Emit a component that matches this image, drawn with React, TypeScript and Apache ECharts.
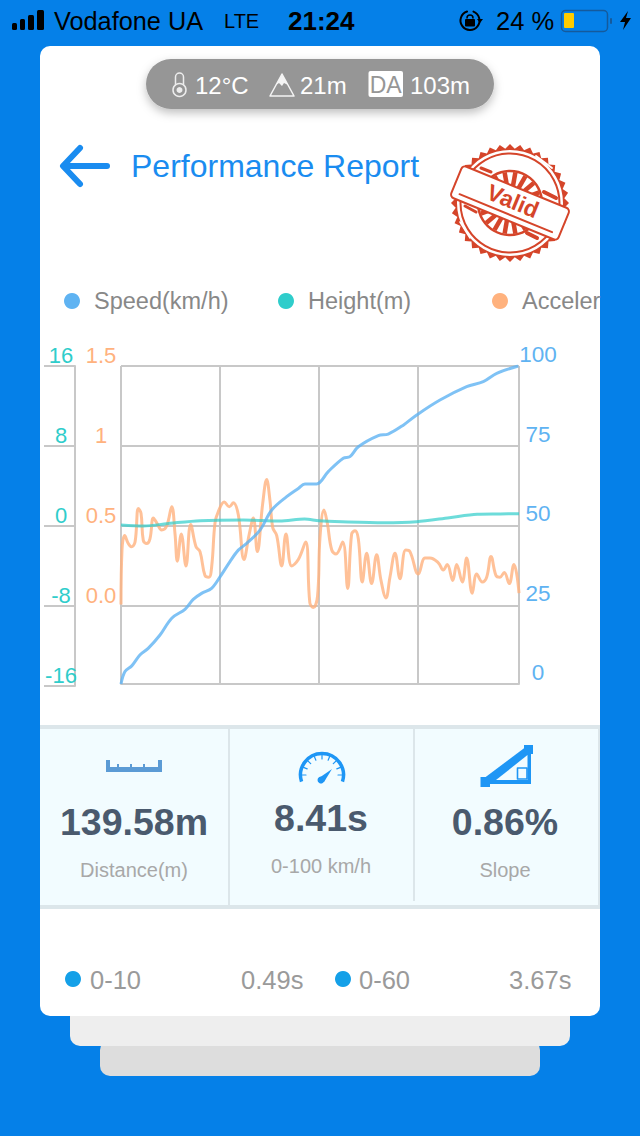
import React, { useEffect, useRef } from 'react';
import * as echarts from 'echarts';

const FONT = '"Liberation Sans", Arial, sans-serif';

const BLUE = '#0580E8';
const SPEED_COLOR = '#5FB3F2';
const HEIGHT_COLOR = '#2FCDCB';
const ACCEL_COLOR = '#FFB27E';
const GRID_COLOR = '#C8C8C8';
const ACCENT = '#1A8CF0';
const STAMP = '#D5452A';

const speedTime = [0, 4, 10.8, 19, 27.3, 39.2, 51, 64.3, 72.6, 81, 91, 99.5, 109.5, 117.9, 126.3, 139.7, 151.5, 166.5, 178.2, 184.9, 196.6, 208.3, 223.4, 230.1, 238.5, 258.6, 268.6, 283.7, 297.2, 320.6, 347.4, 364.1, 377.6, 399.3];
const speedValues = [0, 3.9, 5.7, 9.1, 11.2, 15.4, 20.7, 23.5, 26.6, 28.5, 30.1, 33.7, 38.5, 42.1, 44.2, 48.4, 54.7, 58.9, 61.5, 62.9, 62.9, 66.8, 71, 71.5, 74.6, 78.1, 78.6, 81.4, 84.6, 89.3, 93.5, 95.1, 97.7, 100];

const heightTime = [0, 22.5, 49.5, 79.5, 123, 159.5, 184.5, 199, 222, 264, 297, 330, 358, 381, 400];
const heightValues = [0.1, 0, 0.27, 0.53, 0.6, 0.5, 0.7, 0.53, 0.43, 0.33, 0.43, 0.83, 1.17, 1.2, 1.23];

const accelTime = [0, 1, 3.7, 7.3, 10.4, 14.1, 17.4, 20.1, 22.4, 25.8, 29.1, 32.5, 35.9, 40.9, 45.9, 51, 54.3, 56.6, 60.6, 65.3, 70, 75.4, 79.4, 84.4, 88.4, 91.2, 94.5, 97.8, 103.8, 108.8, 112.9, 117.9, 123.6, 128.9, 133, 137, 142.4, 146.4, 149.7, 152.5, 156.5, 161.5, 165.8, 171.6, 178.2, 185.6, 189.8, 193.3, 197.5, 200, 204, 207.3, 211.8, 216.1, 222.8, 227.8, 231.8, 235.2, 238.5, 242.5, 246.9, 251.9, 256.9, 261.3, 266.3, 270.3, 275.4, 280.4, 286.1, 290.4, 298.8, 305.5, 310.5, 318.9, 323.9, 327.9, 333.4, 337.4, 343, 347.4, 353, 357.5, 363.1, 367.5, 371.9, 376.9, 380.9, 385.2, 390.2, 395, 397.7, 400];
const accelValues = [0.01, 0.35, 0.44, 0.39, 0.37, 0.4, 0.61, 0.58, 0.41, 0.39, 0.42, 0.55, 0.52, 0.475, 0.5, 0.62, 0.45, 0.28, 0.45, 0.25, 0.51, 0.37, 0.34, 0.19, 0.18, 0.25, 0.52, 0.59, 0.65, 0.62, 0.645, 0.57, 0.29, 0.45, 0.55, 0.34, 0.64, 0.79, 0.66, 0.49, 0.44, 0.25, 0.45, 0.25, 0.29, 0.4, 0.02, -0.01, 0.06, 0.43, 0.6, 0.52, 0.35, 0.325, 0.4, 0.11, 0.45, 0.47, 0.42, 0.15, 0.33, 0.14, 0.32, 0.16, 0.05, 0.18, 0.33, 0.17, 0.35, 0.34, 0.2, 0.3, 0.3, 0.27, 0.225, 0.26, 0.16, 0.26, 0.15, 0.3, 0.08, 0.2, 0.15, 0.18, 0.31, 0.19, 0.18, 0.21, 0.14, 0.26, 0.2, 0.08];

const timeTicks = [0, 99.5, 199, 298.5, 400];
const accelTickLabels = ['', '0.0', '0.5', '1', '1.5'];
const legendNames = ['Speed(km/h)', 'Height(m)', 'Acceleration'];

const statValues = ['139.58m', '8.41s', '0.86%'];
const statLabels = ['Distance(m)', '0-100 km/h', 'Slope'];

const zip = (xs: number[], ys: number[]) => xs.map((x, i) => [x, ys[i]]);

const label = (text: string, x: number, y: number, size: number, fill: string, opts: any = {}) => ({
  type: 'text',
  x,
  y,
  rotation: opts.rotation || 0,
  style: {
    text,
    fill,
    font: `${opts.weight || 'normal'} ${size}px ${FONT}`,
    align: opts.align || 'left',
    verticalAlign: 'middle',
  },
});

const rect = (x: number, y: number, width: number, height: number, fill: string, r = 0, extra: any = {}) => ({
  type: 'rect',
  shape: { x, y, width, height, r },
  style: { fill },
  ...extra,
});

const stroke = (type: string, shape: any, color: string, lineWidth: number, cap = 'round') => ({
  type,
  shape,
  style: { fill: 'none', stroke: color, lineWidth, lineCap: cap, lineJoin: 'round' },
});

const fillPoly = (points: number[][], fill: string) => ({ type: 'polygon', shape: { points }, style: { fill } });

// scalloped stamp with its ribbon
const stampElements = () => {
  const cx = 510;
  const cy = 203;
  const teeth: number[][] = [];
  for (let i = 0; i < 72; i++) {
    const a = (i / 72) * Math.PI * 2;
    const r = i % 2 ? 54.5 : 59;
    teeth.push([cx + r * Math.cos(a), cy + r * Math.sin(a)]);
  }
  const rays: any[] = [];
  for (let i = 0; i < 18; i++) {
    const a = (i / 18) * Math.PI * 2;
    rays.push(
      stroke(
        'line',
        { x1: cx + 16 * Math.cos(a), y1: cy + 16 * Math.sin(a), x2: cx + 31 * Math.cos(a), y2: cy + 31 * Math.sin(a) },
        STAMP,
        4.5,
        'butt',
      ),
    );
  }
  return [
    fillPoly(teeth, STAMP),
    { type: 'circle', shape: { cx, cy, r: 53 }, style: { fill: '#fff' } },
    stroke('circle', { cx, cy, r: 49.5 }, STAMP, 2),
    ...rays,
    stroke('circle', { cx, cy, r: 32 }, STAMP, 2.5),
    // worn patches of the print
    stroke('line', { x1: 481, y1: 168, x2: 491, y2: 172 }, STAMP, 3),
    stroke('line', { x1: 544, y1: 192, x2: 556, y2: 198 }, STAMP, 4),
    stroke('line', { x1: 465, y1: 206, x2: 476, y2: 212 }, STAMP, 3),
    stroke('line', { x1: 527, y1: 233, x2: 537, y2: 238 }, STAMP, 4),
    stroke('line', { x1: 536, y1: 156, x2: 552, y2: 168 }, '#fff', 2),
    stroke('line', { x1: 460, y1: 222, x2: 470, y2: 238 }, '#fff', 1.5),
    {
      type: 'group',
      x: 510,
      y: 203,
      rotation: -0.39,
      children: [
        {
          type: 'rect',
          shape: { x: -58, y: -17, width: 116, height: 34, r: 4 },
          style: { fill: '#fff', stroke: STAMP, lineWidth: 2 },
        },
        stroke('line', { x1: -50, y1: 11, x2: 50, y2: 11 }, STAMP, 2),
        label('Valid', 2, -3, 23, STAMP, { align: 'center', weight: 'bold' }),
      ],
    },
  ];
};

const statusBar = () => [
  rect(12, 23, 5, 7, '#000', 1.5),
  rect(20, 19, 5, 11, '#000', 1.5),
  rect(28, 15, 6, 15, '#000', 1.5),
  rect(37, 10, 7, 20, '#000', 1.5),
  label('Vodafone UA', 54, 21, 25.3, '#000'),
  label('LTE', 224, 21, 20, '#000'),
  label('21:24', 288, 21, 26, '#000', { weight: 'bold' }),
  stroke('arc', { cx: 470, cy: 20.5, r: 9.5, startAngle: -1.2, endAngle: 4.4 }, '#000', 2),
  rect(465, 19, 10, 7.5, '#000', 1),
  stroke('arc', { cx: 470, cy: 18, r: 3, startAngle: Math.PI, endAngle: 0 }, '#000', 1.5),
  fillPoly([[477, 19], [483, 19], [480, 23]], '#000'),
  label('24 %', 496, 21, 25.5, '#000'),
  {
    type: 'rect',
    shape: { x: 561.5, y: 10.5, width: 46, height: 21, r: 4 },
    style: { fill: 'none', stroke: '#155A9C', lineWidth: 1.5 },
  },
  rect(564, 13, 10, 15, '#FFCC00', 1),
  rect(610, 18, 2, 6, '#155A9C', 1),
  fillPoly([[628, 11], [620, 22], [625, 22], [623, 30], [631, 18], [626, 18]], '#000'),
];

const pill = () => [
  {
    type: 'rect',
    shape: { x: 146, y: 59, width: 348, height: 50, r: 25 },
    style: { fill: '#969696', shadowBlur: 10, shadowColor: 'rgba(0,0,0,0.25)', shadowOffsetY: 4 },
  },
  stroke('rect', { x: 175.5, y: 73, width: 8, height: 16, r: 4 }, '#EDEDED', 1.5),
  { type: 'circle', shape: { cx: 179.5, cy: 90, r: 6.5 }, style: { fill: '#969696', stroke: '#EDEDED', lineWidth: 1.5 } },
  { type: 'circle', shape: { cx: 179.5, cy: 90, r: 3 }, style: { fill: '#EDEDED' } },
  label('12°C', 195, 85, 24, '#fff'),
  stroke('polygon', { points: [[282, 74], [294, 96], [270, 96]] }, '#F4F4F4', 1.5),
  fillPoly([[282, 74], [288, 85], [284, 83], [282, 86], [279, 83], [276, 85]], '#F4F4F4'),
  label('21m', 300, 85, 24, '#fff'),
  rect(368.5, 71, 34.5, 26, '#fff', 2),
  label('DA', 385.7, 85, 23, '#969696', { align: 'center' }),
  label('103m', 410, 85, 24, '#fff'),
];

const titleRow = () => [
  stroke('polyline', { points: [[80, 148], [63, 166], [80, 184]] }, ACCENT, 6),
  stroke('line', { x1: 64, y1: 166, x2: 107, y2: 166 }, ACCENT, 6),
  label('Performance Report', 131, 166, 32, ACCENT),
];

const statsPanel = () => {
  const ticks: any[] = [];
  for (let i = 0; i < 9; i++) {
    const a = Math.PI + (i / 8) * Math.PI;
    ticks.push(
      stroke(
        'line',
        { x1: 322 + 16 * Math.cos(a), y1: 775 + 16 * Math.sin(a), x2: 322 + 20 * Math.cos(a), y2: 775 + 20 * Math.sin(a) },
        '#1E96F5',
        1.2,
      ),
    );
  }
  return [
    rect(40, 725, 560, 184, '#DCE6EA'),
    rect(40, 729, 188, 176, '#F2FCFF'),
    rect(230, 729, 183, 176, '#F2FCFF'),
    rect(415, 729, 183, 176, '#F2FCFF'),
    rect(228, 729, 2, 176, '#DCE6EA'),
    rect(413, 901, 2, 4, '#F2FCFF'),
    // ruler
    fillPoly(
      [[106, 760], [110, 760], [110, 767], [117, 767], [117, 764], [119, 764], [119, 767], [130, 767], [130, 764], [132, 764], [132, 767], [143, 767], [143, 764], [145, 764], [145, 767], [158, 767], [158, 760], [162, 760], [162, 772], [106, 772]],
      '#5B9BD5',
    ),
    // speedometer
    stroke('arc', { cx: 322, cy: 775, r: 21.5, startAngle: Math.PI * 0.9, endAngle: Math.PI * 2.1 }, '#1E96F5', 3.5, 'butt'),
    ...ticks,
    fillPoly([[332, 769], [324, 782], [319, 778]], '#1E96F5'),
    { type: 'circle', shape: { cx: 321, cy: 780, r: 3.5 }, style: { fill: '#1E96F5' } },
    // slope
    fillPoly([[483, 779], [527, 746], [531, 750], [531, 784], [483, 784]], '#1E96F5'),
    fillPoly([[496, 780], [527.5, 755], [527.5, 780]], '#F2FCFF'),
    rect(480.5, 777, 9.5, 10, '#1E96F5'),
    rect(524, 745, 9, 9, '#1E96F5'),
    stroke('rect', { x: 517.5, y: 768, width: 9.5, height: 11 }, '#1E96F5', 1.6, 'butt'),
    label(statValues[0], 134, 822, 37.5, '#4A5A6E', { align: 'center', weight: 'bold' }),
    label(statValues[1], 321, 818, 37.5, '#4A5A6E', { align: 'center', weight: 'bold' }),
    label(statValues[2], 505, 822, 37.5, '#4A5A6E', { align: 'center', weight: 'bold' }),
    label(statLabels[0], 134, 870, 20, '#A8A8A8', { align: 'center' }),
    label(statLabels[1], 321, 866, 20, '#A8A8A8', { align: 'center' }),
    label(statLabels[2], 505, 870, 20, '#A8A8A8', { align: 'center' }),
  ];
};

const footerRow = () => [
  { type: 'circle', shape: { cx: 73, cy: 979, r: 8 }, style: { fill: '#14A0E8' } },
  label('0-10', 90, 980, 25.5, '#9A9A9A'),
  label('0.49s', 241, 980, 25.5, '#9A9A9A'),
  { type: 'circle', shape: { cx: 343, cy: 979, r: 8 }, style: { fill: '#14A0E8' } },
  label('0-60', 359, 980, 25.5, '#9A9A9A'),
  label('3.67s', 509, 980, 25.5, '#9A9A9A'),
];

const App: React.FC = () => {
  const chartRef = useRef<HTMLDivElement>(null);

  useEffect(() => {
    if (!chartRef.current) return;
    document.body.style.margin = '0';
    const chart = echarts.init(chartRef.current, undefined, { renderer: 'svg' });

    const legendBase = {
      icon: 'circle',
      itemWidth: 16,
      itemHeight: 16,
      top: 284,
      width: 400,
      textStyle: { color: '#888', fontSize: 23.5, fontFamily: FONT, padding: [0, 0, 0, 9] },
    };

    const option: any = {
      animation: false,
      backgroundColor: BLUE,
      legend: [
        { ...legendBase, left: 59, data: [legendNames[0]] },
        { ...legendBase, left: 273, data: [legendNames[1]] },
        {
          ...legendBase,
          left: 487,
          data: [legendNames[2]],
          // the card cuts this entry off at its right edge
          textStyle: { ...legendBase.textStyle, width: 88, overflow: 'truncate', ellipsis: '' },
        },
      ],
      grid: [
        { left: 121, top: 366, width: 398, height: 320 },
        { left: 121, top: 366, width: 398, height: 318 },
      ],
      xAxis: [
        { type: 'value', gridIndex: 0, min: 0, max: 400, show: false },
        {
          type: 'value',
          gridIndex: 1,
          min: 0,
          max: 400,
          axisLine: { show: true, onZero: false, lineStyle: { color: GRID_COLOR, width: 2 } },
          axisTick: { show: false, customValues: timeTicks },
          axisLabel: { show: false },
          splitLine: { show: true, lineStyle: { color: GRID_COLOR, width: 2 } },
        },
      ],
      yAxis: [
        {
          type: 'value',
          gridIndex: 0,
          position: 'left',
          min: -0.5,
          max: 1.5,
          interval: 0.5,
          axisLine: { show: false },
          axisTick: { show: false },
          splitLine: { show: true, showMinLine: false, lineStyle: { color: GRID_COLOR, width: 2 } },
          axisLabel: {
            color: ACCEL_COLOR,
            fontSize: 22,
            fontFamily: FONT,
            align: 'center',
            verticalAlign: 'bottom',
            margin: 20,
            formatter: (_: number, i: number) => accelTickLabels[i],
          },
        },
        {
          type: 'value',
          gridIndex: 0,
          position: 'left',
          offset: 46,
          min: -16,
          max: 16,
          interval: 8,
          axisLine: { show: true, onZero: false, lineStyle: { color: GRID_COLOR, width: 2 } },
          axisTick: { show: true, length: 31, lineStyle: { color: GRID_COLOR, width: 2 } },
          splitLine: { show: false },
          axisLabel: {
            color: HEIGHT_COLOR,
            fontSize: 22,
            fontFamily: FONT,
            align: 'center',
            verticalAlign: 'bottom',
            margin: 14,
          },
        },
        {
          type: 'value',
          gridIndex: 1,
          position: 'right',
          min: 0,
          max: 100,
          interval: 25,
          axisLine: { show: false },
          axisTick: { show: false },
          splitLine: { show: false },
          axisLabel: {
            color: SPEED_COLOR,
            fontSize: 22.5,
            fontFamily: FONT,
            align: 'center',
            verticalAlign: 'bottom',
            margin: 19,
          },
        },
      ],
      series: [
        {
          name: legendNames[2],
          type: 'line',
          xAxisIndex: 0,
          yAxisIndex: 0,
          data: zip(accelTime, accelValues),
          smooth: 0.4,
          showSymbol: false,
          itemStyle: { color: ACCEL_COLOR },
          lineStyle: { color: ACCEL_COLOR, width: 3, opacity: 0.8 },
        },
        {
          name: legendNames[1],
          type: 'line',
          xAxisIndex: 0,
          yAxisIndex: 1,
          data: zip(heightTime, heightValues),
          smooth: 0.3,
          showSymbol: false,
          itemStyle: { color: HEIGHT_COLOR },
          lineStyle: { color: HEIGHT_COLOR, width: 3, opacity: 0.7 },
        },
        {
          name: legendNames[0],
          type: 'line',
          xAxisIndex: 1,
          yAxisIndex: 2,
          data: zip(speedTime, speedValues),
          smooth: 0.35,
          showSymbol: false,
          itemStyle: { color: SPEED_COLOR },
          lineStyle: { color: SPEED_COLOR, width: 3, opacity: 0.8 },
        },
      ],
      graphic: {
        elements: [
          {
            type: 'group',
            z: -1,
            children: [
              rect(100, 1040, 440, 36, '#DDDDDD', 10),
              rect(70, 1000, 500, 46, '#EEEEEE', 10),
              rect(40, 46, 560, 970, '#FFFFFF', 10),
              ...statsPanel(),
            ],
          },
          {
            type: 'group',
            z: 10,
            children: [...statusBar(), ...pill(), ...titleRow(), ...stampElements(), ...footerRow()],
          },
        ],
      },
    };

    chart.setOption(option);

    return () => {
      chart.dispose();
    };
  }, []);

  return <div ref={chartRef} style={{ width: 640, height: 1136 }} />;
};

export default App;
